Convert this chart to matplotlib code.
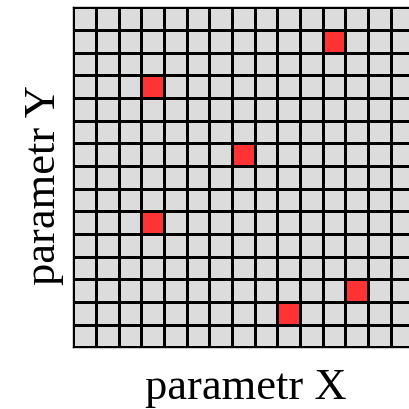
import matplotlib
matplotlib.use("Agg")
import matplotlib.pyplot as plt
import numpy as np
from matplotlib.colors import ListedColormap

# grid size and the highlighted cells (column, row counted from the top)
n_cols = 15
n_rows = 15
hit_cols = [11, 3, 7, 3, 12, 9]
hit_rows = [1, 3, 6, 9, 12, 13]

grid = np.zeros((n_rows, n_cols))
for c, r in zip(hit_cols, hit_rows):
    grid[r, c] = 1

W = 410
fig = plt.figure(figsize=(4.1, 4.1), dpi=100)
# axes run off the right edge on purpose, like the reference
ax = fig.add_axes([73.3 / W, (W - 348.3) / W, 340 / W, 340 / W])

cmap = ListedColormap(['#dcdcdc', '#ff3333'])
ax.pcolormesh(np.arange(n_cols + 1), np.arange(n_rows + 1), grid,
              cmap=cmap, vmin=0, vmax=1, edgecolors='black', linewidth=0.8)
ax.set_xlim(0, n_cols)
ax.set_ylim(n_rows, 0)
ax.set_xticks([])
ax.set_yticks([])
for s in ax.spines.values():
    s.set_linewidth(1.0)

font = dict(family=['Liberation Serif', 'DejaVu Serif'], fontsize=32)
fig.text(246 / W, (W - 399) / W, 'parametr X', ha='center', va='baseline', **font)
fig.text(55 / W, (W - 185) / W, 'parametr Y', ha='center', va='baseline',
         rotation=90, rotation_mode='anchor', **font)

fig.savefig('out.png', dpi=100)
